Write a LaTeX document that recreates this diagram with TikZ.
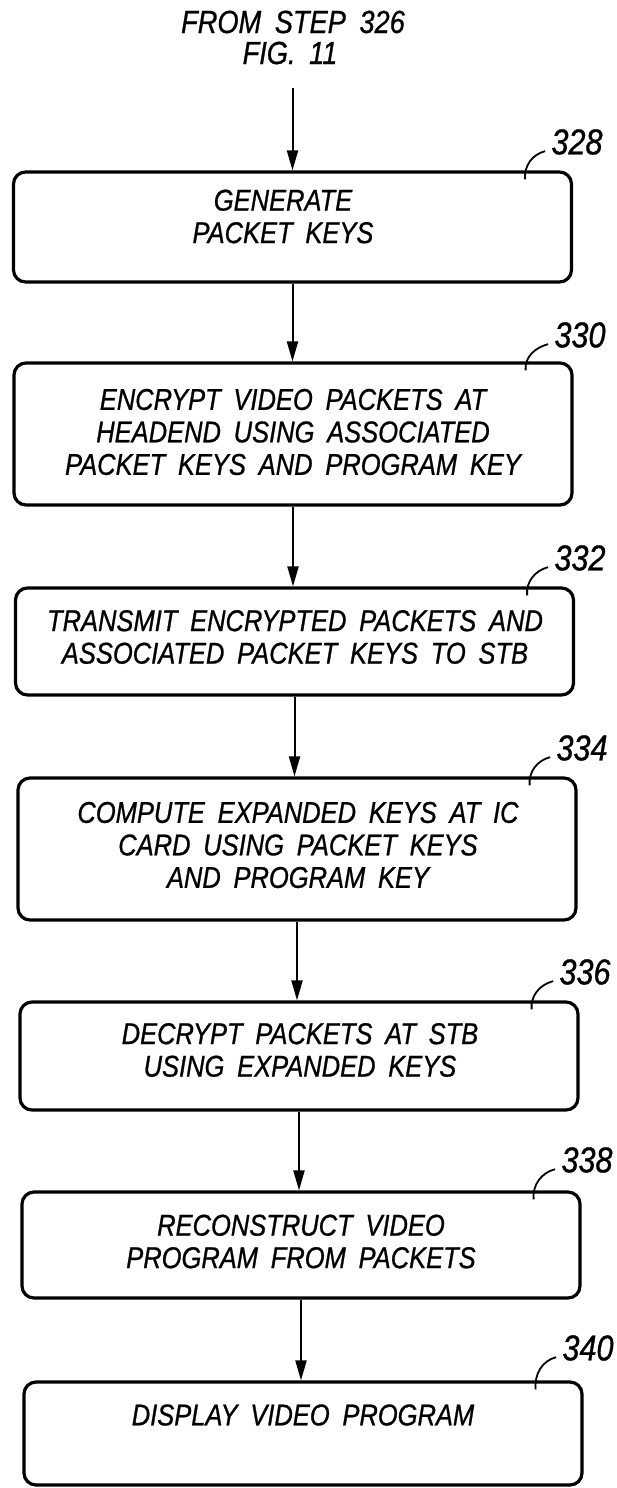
\documentclass[tikz,border=0pt]{standalone}
\usepackage{fontspec}
\setmainfont{Liberation Sans}[FakeStretch=0.85,WordSpace=1.8,FakeBold=0.8]
\usepackage{tikz}
\usetikzlibrary{arrows.meta}

\tikzset{
  stepbox/.style={draw,line width=1.6pt,rounded corners=6pt,minimum width=279pt,inner sep=0pt},
  steptext/.style={align=center,inner sep=0pt,font=\fontsize{15}{16.25}\selectfont\itshape},
  reflabel/.style={inner sep=0pt,font=\fontsize{18}{18}\selectfont\itshape},
  flow/.style={-{Triangle[length=10pt,width=5.5pt]},line width=1pt},
  leader/.style={line width=0.9pt}
}

\begin{document}
\begin{tikzpicture}[x=0.5pt,y=-0.5pt]
\useasboundingbox (0,0) rectangle (616,1488);
% entry from fig. 11
\node[steptext,font=\fontsize{16}{17}\selectfont\itshape] (from) at (293,22) {FROM STEP 326};
\node[steptext,font=\fontsize{16}{17}\selectfont\itshape] (fig) at (290,53) {FIG.\ 11};
\coordinate (entry) at (292.5,88);
% boxes
\node[stepbox,minimum height=55pt] (box328) at (292.5,227) {};
\node[stepbox,minimum height=71pt] (box330) at (293,434) {};
\node[stepbox,minimum height=53.5pt] (box332) at (294.5,641.5) {};
\node[stepbox,minimum height=71pt] (box334) at (297,849) {};
\node[stepbox,minimum height=54pt] (box336) at (299,1056) {};
\node[stepbox,minimum height=53pt] (box338) at (301,1245) {};
\node[stepbox,minimum height=51.5pt] (box340) at (303,1433.5) {};
% box texts
\node[steptext] (txt328) at (283,216.5) {GENERATE\\PACKET KEYS};
\node[steptext] (txt330) at (293,432) {ENCRYPT VIDEO PACKETS AT\\HEADEND USING ASSOCIATED\\PACKET KEYS AND PROGRAM KEY};
\node[steptext] (txt332) at (295,637) {TRANSMIT ENCRYPTED PACKETS AND\\ASSOCIATED PACKET KEYS TO STB};
\node[steptext] (txt334) at (298,845) {COMPUTE EXPANDED KEYS AT IC\\CARD USING PACKET KEYS\\AND PROGRAM KEY};
\node[steptext] (txt336) at (300,1050) {DECRYPT PACKETS AT STB\\USING EXPANDED KEYS};
\node[steptext] (txt338) at (301,1241.5) {RECONSTRUCT VIDEO\\PROGRAM FROM PACKETS};
\node[steptext] (txt340) at (303,1415) {DISPLAY VIDEO PROGRAM};
% reference numerals
\node[reflabel] (lbl328) at (577,142) {328};
\node[reflabel] (lbl330) at (580,335) {330};
\node[reflabel] (lbl332) at (580,558) {332};
\node[reflabel] (lbl334) at (582,748) {334};
\node[reflabel] (lbl336) at (585,972) {336};
\node[reflabel] (lbl338) at (587,1160) {338};
\node[reflabel] (lbl340) at (588,1348) {340};
% leaders
\draw[leader] ([xshift=-24pt,yshift=-4.5pt]box328.north east) to[out=95,in=195] ([xshift=-3pt,yshift=2pt]lbl328.south west);
\draw[leader] ([xshift=-24pt,yshift=-4.5pt]box330.north east) to[out=95,in=195] ([xshift=-3pt,yshift=2pt]lbl330.south west);
\draw[leader] ([xshift=-24pt,yshift=-4.5pt]box332.north east) to[out=95,in=195] ([xshift=-3pt,yshift=2pt]lbl332.south west);
\draw[leader] ([xshift=-24pt,yshift=-4.5pt]box334.north east) to[out=95,in=195] ([xshift=-3pt,yshift=2pt]lbl334.south west);
\draw[leader] ([xshift=-24pt,yshift=-4.5pt]box336.north east) to[out=95,in=195] ([xshift=-3pt,yshift=2pt]lbl336.south west);
\draw[leader] ([xshift=-24pt,yshift=-4.5pt]box338.north east) to[out=95,in=195] ([xshift=-3pt,yshift=2pt]lbl338.south west);
\draw[leader] ([xshift=-24pt,yshift=-4.5pt]box340.north east) to[out=95,in=195] ([xshift=-3pt,yshift=2pt]lbl340.south west);
% flow arrows
\draw[flow] (entry) -- (box328.north);
\draw[flow] (box328.south) -- (box328.south |- box330.north);
\draw[flow] (box330.south) -- (box330.south |- box332.north);
\draw[flow] (box332.south) -- (box332.south |- box334.north);
\draw[flow] (box334.south) -- (box334.south |- box336.north);
\draw[flow] (box336.south) -- (box336.south |- box338.north);
\draw[flow] (box338.south) -- (box338.south |- box340.north);
\end{tikzpicture}
\end{document}
